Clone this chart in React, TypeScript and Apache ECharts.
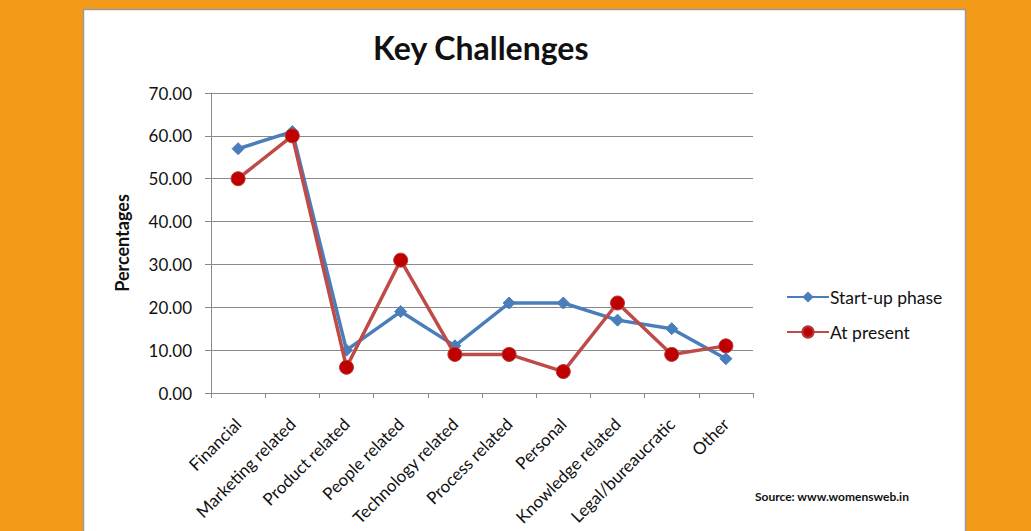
import React, { useEffect, useRef } from "react";
import * as echarts from "echarts";

const categories = [
  "Financial",
  "Marketing related",
  "Product related",
  "People related",
  "Technology related",
  "Process related",
  "Personal",
  "Knowledge related",
  "Legal/bureaucratic",
  "Other",
];
const startUpPhase = [57, 61, 10, 19, 11, 21, 21, 17, 15, 8];
const atPresent = [50, 60, 6, 31, 9, 9, 5, 21, 9, 11];
const seriesNames = ["Start-up phase", "At present"];

const FONT = "Lato, 'Open Sans', sans-serif";
const GRID_COLOR = "#8a8a8a";

export default function App() {
  const ref = useRef<HTMLDivElement>(null);
  useEffect(() => {
    if (!ref.current) return;
    const chart = echarts.init(ref.current, null, { renderer: "svg" });
    chart.setOption({
      animation: false,
      backgroundColor: "#F29A17",
      textStyle: { fontFamily: FONT },
      graphic: [
        {
          type: "rect",
          z: -10,
          shape: { x: 83.5, y: 9.5, width: 882, height: 530 },
          style: { fill: "#ffffff", stroke: "#9a9a9a", lineWidth: 1.5 },
          silent: true,
        },
        {
          type: "text",
          x: 755,
          y: 490,
          style: {
            text: "Source: www.womensweb.in",
            font: "bold 12px " + FONT,
            fill: "#111",
          },
        },
      ],
      title: {
        text: "Key Challenges",
        left: 368,
        top: 26,
        textStyle: { fontSize: 32, fontWeight: "bold", color: "#111", fontFamily: FONT },
      },
      legend: {
        orient: "vertical",
        left: 781,
        top: 283,
        itemWidth: 42,
        itemHeight: 14,
        itemGap: 17,
        textStyle: { fontSize: 17.5, color: "#111", fontFamily: FONT, padding: [0, 0, 0, -4] },
        data: seriesNames,
      },
      grid: { left: 211, right: 278, top: 93, bottom: 138, containLabel: false },
      xAxis: {
        type: "category",
        data: categories,
        boundaryGap: true,
        axisLine: { show: true, lineStyle: { color: GRID_COLOR, width: 1 } },
        axisTick: { show: true, length: 5, lineStyle: { color: GRID_COLOR } },
        axisLabel: {
          interval: 0,
          rotate: 45,
          fontSize: 17,
          color: "#111",
          margin: 28,
          fontFamily: FONT,
        },
      },
      yAxis: {
        type: "value",
        min: 0,
        max: 70,
        interval: 10,
        name: "Percentages",
        nameLocation: "middle",
        nameGap: 80,
        nameRotate: 90,
        nameTextStyle: { fontSize: 18, fontWeight: "bold", color: "#111", fontFamily: FONT },
        axisLine: { show: true, lineStyle: { color: GRID_COLOR, width: 1 } },
        axisTick: { show: true, length: 6, lineStyle: { color: GRID_COLOR } },
        axisLabel: {
          formatter: (v: number) => v.toFixed(2),
          fontSize: 17,
          color: "#111",
          margin: 19,
          fontFamily: FONT,
        },
        splitLine: { show: true, lineStyle: { color: GRID_COLOR, width: 1 } },
      },
      series: [
        {
          name: seriesNames[0],
          type: "line",
          data: startUpPhase,
          symbol: "diamond",
          symbolSize: 12,
          lineStyle: { color: "#4A7EBB", width: 3.5 },
          itemStyle: { color: "#4A7EBB", borderColor: "#4A7EBB" },
          z: 2,
        },
        {
          name: seriesNames[1],
          type: "line",
          data: atPresent,
          symbol: "circle",
          symbolSize: 14,
          lineStyle: { color: "#BE4B48", width: 3.5 },
          itemStyle: { color: "#C00000", borderColor: "#B03A38", borderWidth: 1 },
          z: 3,
        },
      ],
    });
    return () => chart.dispose();
  }, []);
  return (
    <div
      ref={ref}
      style={{ position: "fixed", left: 0, top: 0, width: 1031, height: 531 }}
    />
  );
}
